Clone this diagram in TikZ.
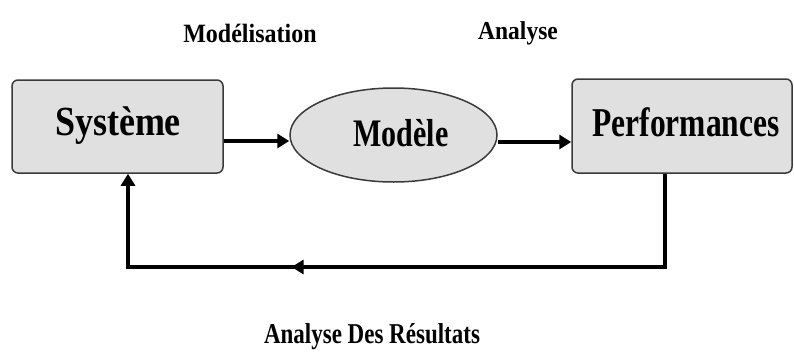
\documentclass[tikz,border=0pt]{standalone}
\usepackage{fontspec}
\setmainfont{Liberation Serif}
\usepackage{graphicx}
\usetikzlibrary{arrows.meta,shapes.geometric,decorations.markings}
\definecolor{boxfill}{HTML}{E0E0E0}
\definecolor{boxdraw}{HTML}{3A3A3A}
\tikzset{
  blockbox/.style={draw=boxdraw,line width=1.5pt,fill=boxfill,rounded corners=6pt,inner sep=0pt,font=\bfseries},
  ovalbox/.style={draw=boxdraw,line width=1.5pt,fill=boxfill,ellipse,inner sep=0pt,font=\bfseries},
  conn/.style={line width=3.5pt,-{Triangle[length=12pt,width=14pt]}},
  lbl/.style={font=\bfseries,inner sep=0pt},
}
\newcommand{\stretchtxt}[2]{\scalebox{1}[#1]{#2}}
\begin{document}
\begin{tikzpicture}[x=1pt,y=-1pt]
\useasboundingbox (0,0) rectangle (794,351);
\node[blockbox,minimum width=211pt,minimum height=93pt] (sys) at (117.5,126.5) {};
\node[lbl,font=\bfseries\fontsize{36}{40}\selectfont] (systxt) at (118,126) {\stretchtxt{1.15}{Système}};
\node[ovalbox,minimum width=207pt,minimum height=94pt] (mod) at (393.5,135) {};
\node[lbl,font=\bfseries\fontsize{30}{34}\selectfont] (modtxt) at (401,133) {\stretchtxt{1.3}{Modèle}};
\node[blockbox,minimum width=220pt,minimum height=94pt] (perf) at (682,126) {};
\node[lbl,font=\bfseries\fontsize{31.5}{36}\selectfont] (perftxt) at (686,122) {\stretchtxt{1.3}{Performances}};
\node[lbl,font=\bfseries\fontsize{24}{28}\selectfont] (l1) at (250,33) {\stretchtxt{1.1}{Modélisation}};
\node[lbl,font=\bfseries\fontsize{23.5}{28}\selectfont] (l2) at (518,33) {\stretchtxt{1.1}{Analyse}};
\node[lbl,font=\bfseries\fontsize{23}{28}\selectfont] (l3) at (372,337) {\stretchtxt{1.25}{Analyse Des Résultats}};
\draw[conn] (sys.east |- 0,141) -- (mod.west |- 0,141);
\draw[conn] (mod.east |- 0,142) -- (perf.west |- 0,142);
\coordinate (c1) at (665,267);
\coordinate (c2) at (128,267);
\draw[line width=3.5pt,-{Triangle[length=12pt,width=14pt]},
  postaction={decorate},
  decoration={markings,mark=at position 0.645 with {\arrow{Triangle[length=12pt,width=14pt]}}}]
  (perf.south -| c1) -- (c1) -- (c2) -- (sys.south -| c2);
\end{tikzpicture}
\end{document}
